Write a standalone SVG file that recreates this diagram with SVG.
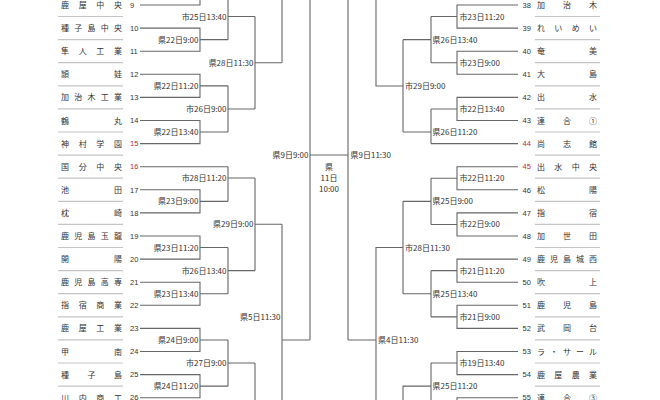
<svg xmlns="http://www.w3.org/2000/svg" width="660" height="400" viewBox="0 0 660 400">
<style>
.bg{fill:#ffffff}
.ln{stroke:#666;stroke-width:1.1;fill:none}
.sep{stroke:#c4c4c4;stroke-width:1.2}
.nm{font-family:"Noto Sans CJK JP","Noto Sans",sans-serif;font-size:8px;fill:#333;text-anchor:middle}
.num{font-family:"Liberation Sans","DejaVu Sans",sans-serif;font-size:7.5px;fill:#333}
.red{fill:#c0282d}
.lb{font-family:"Noto Sans CJK JP","Noto Sans",sans-serif;font-size:8px;fill:#333}
.lbl{text-anchor:end}
.fin{text-anchor:middle}
</style>
<rect class="bg" x="0" y="0" width="660" height="400"/>
<g id="connectors" class="ln">
<path d="M140 5 H200 V-20 M200 -6.55 H228"/>
<path d="M140 28.1 H200 V51.2 H140 M200 39.65 H228"/>
<path d="M140 74.3 H200 V97.4 H140 M200 85.85 H228"/>
<path d="M140 120.5 H200 V143.6 H140 M200 132.05 H228"/>
<path d="M140 166.7 H228"/>
<path d="M140 189.8 H200 V212.9 H140 M200 201.35 H228"/>
<path d="M140 236 H200 V259.1 H140 M200 247.55 H228"/>
<path d="M140 282.2 H200 V305.3 H140 M200 293.75 H228"/>
<path d="M140 328.4 H200 V351.5 H140 M200 339.95 H228"/>
<path d="M140 374.6 H200 V397.7 H140 M200 386.15 H228"/>
<path d="M228 -6.55 V39.65 M228 16.55 H255"/>
<path d="M228 85.85 V132.05 M228 108.95 H255"/>
<path d="M228 166.7 V201.35 M228 178 H255"/>
<path d="M228 247.55 V293.75 M228 270.65 H255"/>
<path d="M228 339.95 V386.15 M228 363.05 H255"/>
<path d="M255 16.55 V108.95 M255 62.75 H282"/>
<path d="M255 178 V270.65 M255 224.3 H282"/>
<path d="M255 363.05 V410"/>
<path d="M282 -10 V62.75"/>
<path d="M282 224.3 V410 M282 340 H310"/>
<path d="M310 -10 V340 M310 155 H348"/>
<path d="M348 -10 V340 M348 340 H376"/>
<path d="M376 -10 V86 H403"/>
<path d="M376 410 V247.55 H403"/>
<path d="M403 39.65 V132.05 M403 39.65 H431 M403 132.05 H431"/>
<path d="M403 201.35 V293.75 M403 201.35 H431 M403 293.75 H431"/>
<path d="M403 410 V386.15 H431"/>
<path d="M431 16.55 V62.75 M431 16.55 H457 M431 62.75 H457"/>
<path d="M431 108.95 V143.6 M431 108.95 H457 M431 143.6 H518"/>
<path d="M431 178.25 V224.45 M431 178.25 H457 M431 224.45 H457"/>
<path d="M431 270.65 V316.85 M431 270.65 H457 M431 316.85 H457"/>
<path d="M431 363.05 V410 M431 363.05 H457"/>
<path d="M518 5 H457 V28.1 H518"/>
<path d="M518 51.2 H457 V74.3 H518"/>
<path d="M518 97.4 H457 V120.5 H518"/>
<path d="M518 166.7 H457 V189.8 H518"/>
<path d="M518 212.9 H457 V236 H518"/>
<path d="M518 259.1 H457 V282.2 H518"/>
<path d="M518 305.3 H457 V328.4 H518"/>
<path d="M518 351.5 H457 V374.6 H518"/>
<path d="M518 397.7 H457 V420"/>
</g>
<g id="match-labels" class="lb">
<text class="lbl" x="198.5" y="42.65">県22日9:00</text>
<text class="lbl" x="198.5" y="88.85">県22日11:20</text>
<text class="lbl" x="198.5" y="135.05">県22日13:40</text>
<text class="lbl" x="198.5" y="204.35">県23日9:00</text>
<text class="lbl" x="198.5" y="250.55">県23日11:20</text>
<text class="lbl" x="198.5" y="296.75">県23日13:40</text>
<text class="lbl" x="198.5" y="342.95">県24日9:00</text>
<text class="lbl" x="198.5" y="389.15">県24日11:20</text>
<text class="lbl" x="226.5" y="19.55">市25日13:40</text>
<text class="lbl" x="226.5" y="111.95">市26日9:00</text>
<text class="lbl" x="226.5" y="181">市28日11:20</text>
<text class="lbl" x="226.5" y="273.65">市26日13:40</text>
<text class="lbl" x="226.5" y="366.05">市27日9:00</text>
<text class="lbl" x="253.5" y="65.75">県28日11:30</text>
<text class="lbl" x="253.5" y="227.3">県29日9:00</text>
<text class="lbl" x="280.5" y="320">県5日11:30</text>
<text class="lbl" x="308.5" y="158">県9日9:00</text>
<text x="350.5" y="158">県9日11:30</text>
<text class="fin" x="329" y="170">県</text>
<text class="fin" x="329" y="181">11日</text>
<text class="fin" x="329" y="191.5">10:00</text>
<text x="378" y="343">県4日11:30</text>
<text x="405" y="89">市29日9:00</text>
<text x="405" y="250.55">市28日11:30</text>
<text x="432.5" y="42.65">県26日13:40</text>
<text x="432.5" y="135.05">県26日11:20</text>
<text x="432.5" y="204.35">県25日9:00</text>
<text x="432.5" y="296.75">県25日13:40</text>
<text x="432.5" y="389.15">県25日11:20</text>
<text x="459.5" y="19.55">市23日11:20</text>
<text x="459.5" y="65.75">市23日9:00</text>
<text x="459.5" y="111.95">市22日13:40</text>
<text x="459.5" y="181.25">市22日11:20</text>
<text x="459.5" y="227.45">市22日9:00</text>
<text x="459.5" y="273.65">市21日11:20</text>
<text x="459.5" y="319.85">市21日9:00</text>
<text x="459.5" y="366.05">市19日13:40</text>
</g>
<g id="team-9"><text class="nm" x="65 82.67 100.33 118" y="8">鹿屋中央</text><text class="num" x="130" y="7.7">9</text><line class="sep" x1="58" y1="16.5" x2="123" y2="16.5"/></g>
<g id="team-10"><text class="nm" x="65 78.25 91.5 104.75 118" y="31.1">種子島中央</text><text class="num" x="130" y="30.8">10</text><line class="sep" x1="58" y1="39.6" x2="123" y2="39.6"/></g>
<g id="team-11"><text class="nm" x="65 82.67 100.33 118" y="54.2">隼人工業</text><text class="num" x="130" y="53.9">11</text><line class="sep" x1="58" y1="62.7" x2="123" y2="62.7"/></g>
<g id="team-12"><text class="nm" x="65 118" y="77.3">頴娃</text><text class="num" x="130" y="77">12</text><line class="sep" x1="58" y1="85.8" x2="123" y2="85.8"/></g>
<g id="team-13"><text class="nm" x="65 78.25 91.5 104.75 118" y="100.4">加治木工業</text><text class="num" x="130" y="100.1">13</text><line class="sep" x1="58" y1="108.9" x2="123" y2="108.9"/></g>
<g id="team-14"><text class="nm" x="65 118" y="123.5">鶴丸</text><text class="num" x="130" y="123.2">14</text><line class="sep" x1="58" y1="132" x2="123" y2="132"/></g>
<g id="team-15"><text class="nm" x="65 82.67 100.33 118" y="146.6">神村学園</text><text class="num red" x="130" y="146.3">15</text><line class="sep" x1="58" y1="155.1" x2="123" y2="155.1"/></g>
<g id="team-16"><text class="nm" x="65 82.67 100.33 118" y="169.7">国分中央</text><text class="num red" x="130" y="169.4">16</text><line class="sep" x1="58" y1="178.2" x2="123" y2="178.2"/></g>
<g id="team-17"><text class="nm" x="65 118" y="192.8">池田</text><text class="num" x="130" y="192.5">17</text><line class="sep" x1="58" y1="201.3" x2="123" y2="201.3"/></g>
<g id="team-18"><text class="nm" x="65 118" y="215.9">枕崎</text><text class="num" x="130" y="215.6">18</text><line class="sep" x1="58" y1="224.4" x2="123" y2="224.4"/></g>
<g id="team-19"><text class="nm" x="65 78.25 91.5 104.75 118" y="239">鹿児島玉龍</text><text class="num" x="130" y="238.7">19</text><line class="sep" x1="58" y1="247.5" x2="123" y2="247.5"/></g>
<g id="team-20"><text class="nm" x="65 118" y="262.1">開陽</text><text class="num" x="130" y="261.8">20</text><line class="sep" x1="58" y1="270.6" x2="123" y2="270.6"/></g>
<g id="team-21"><text class="nm" x="65 78.25 91.5 104.75 118" y="285.2">鹿児島高専</text><text class="num" x="130" y="284.9">21</text><line class="sep" x1="58" y1="293.7" x2="123" y2="293.7"/></g>
<g id="team-22"><text class="nm" x="65 82.67 100.33 118" y="308.3">指宿商業</text><text class="num" x="130" y="308">22</text><line class="sep" x1="58" y1="316.8" x2="123" y2="316.8"/></g>
<g id="team-23"><text class="nm" x="65 82.67 100.33 118" y="331.4">鹿屋工業</text><text class="num" x="130" y="331.1">23</text><line class="sep" x1="58" y1="339.9" x2="123" y2="339.9"/></g>
<g id="team-24"><text class="nm" x="65 118" y="354.5">甲南</text><text class="num" x="130" y="354.2">24</text><line class="sep" x1="58" y1="363" x2="123" y2="363"/></g>
<g id="team-25"><text class="nm" x="65 91.5 118" y="377.6">種子島</text><text class="num" x="130" y="377.3">25</text><line class="sep" x1="58" y1="386.1" x2="123" y2="386.1"/></g>
<g id="team-26"><text class="nm" x="65 82.67 100.33 118" y="400.7">川内商工</text><text class="num" x="130" y="400.4">26</text></g>
<g id="team-38"><text class="nm" x="541 567 593" y="8">加治木</text><text class="num" x="522.5" y="7.7">38</text><line class="sep" x1="535" y1="16.5" x2="600" y2="16.5"/></g>
<g id="team-39"><text class="nm" x="541 558.33 575.67 593" y="31.1">れいめい</text><text class="num" x="522.5" y="30.8">39</text><line class="sep" x1="535" y1="39.6" x2="600" y2="39.6"/></g>
<g id="team-40"><text class="nm" x="541 593" y="54.2">奄美</text><text class="num" x="522.5" y="53.9">40</text><line class="sep" x1="535" y1="62.7" x2="600" y2="62.7"/></g>
<g id="team-41"><text class="nm" x="541 593" y="77.3">大島</text><text class="num" x="522.5" y="77">41</text><line class="sep" x1="535" y1="85.8" x2="600" y2="85.8"/></g>
<g id="team-42"><text class="nm" x="541 593" y="100.4">出水</text><text class="num" x="522.5" y="100.1">42</text><line class="sep" x1="535" y1="108.9" x2="600" y2="108.9"/></g>
<g id="team-43"><text class="nm" x="541 567 593" y="123.5">連合①</text><text class="num" x="522.5" y="123.2">43</text><line class="sep" x1="535" y1="132" x2="600" y2="132"/></g>
<g id="team-44"><text class="nm" x="541 567 593" y="146.6">尚志館</text><text class="num red" x="522.5" y="146.3">44</text><line class="sep" x1="535" y1="155.1" x2="600" y2="155.1"/></g>
<g id="team-45"><text class="nm" x="541 558.33 575.67 593" y="169.7">出水中央</text><text class="num red" x="522.5" y="169.4">45</text><line class="sep" x1="535" y1="178.2" x2="600" y2="178.2"/></g>
<g id="team-46"><text class="nm" x="541 593" y="192.8">松陽</text><text class="num" x="522.5" y="192.5">46</text><line class="sep" x1="535" y1="201.3" x2="600" y2="201.3"/></g>
<g id="team-47"><text class="nm" x="541 593" y="215.9">指宿</text><text class="num" x="522.5" y="215.6">47</text><line class="sep" x1="535" y1="224.4" x2="600" y2="224.4"/></g>
<g id="team-48"><text class="nm" x="541 567 593" y="239">加世田</text><text class="num" x="522.5" y="238.7">48</text><line class="sep" x1="535" y1="247.5" x2="600" y2="247.5"/></g>
<g id="team-49"><text class="nm" x="541 554 567 580 593" y="262.1">鹿児島城西</text><text class="num" x="522.5" y="261.8">49</text><line class="sep" x1="535" y1="270.6" x2="600" y2="270.6"/></g>
<g id="team-50"><text class="nm" x="541 593" y="285.2">吹上</text><text class="num" x="522.5" y="284.9">50</text><line class="sep" x1="535" y1="293.7" x2="600" y2="293.7"/></g>
<g id="team-51"><text class="nm" x="541 567 593" y="308.3">鹿児島</text><text class="num" x="522.5" y="308">51</text><line class="sep" x1="535" y1="316.8" x2="600" y2="316.8"/></g>
<g id="team-52"><text class="nm" x="541 567 593" y="331.4">武岡台</text><text class="num" x="522.5" y="331.1">52</text><line class="sep" x1="535" y1="339.9" x2="600" y2="339.9"/></g>
<g id="team-53"><text class="nm" x="541 554 567 580 593" y="354.5">ラ・サール</text><text class="num" x="522.5" y="354.2">53</text><line class="sep" x1="535" y1="363" x2="600" y2="363"/></g>
<g id="team-54"><text class="nm" x="541 558.33 575.67 593" y="377.6">鹿屋農業</text><text class="num" x="522.5" y="377.3">54</text><line class="sep" x1="535" y1="386.1" x2="600" y2="386.1"/></g>
<g id="team-55"><text class="nm" x="541 567 593" y="400.7">連合③</text><text class="num" x="522.5" y="400.4">55</text></g>
</svg>
